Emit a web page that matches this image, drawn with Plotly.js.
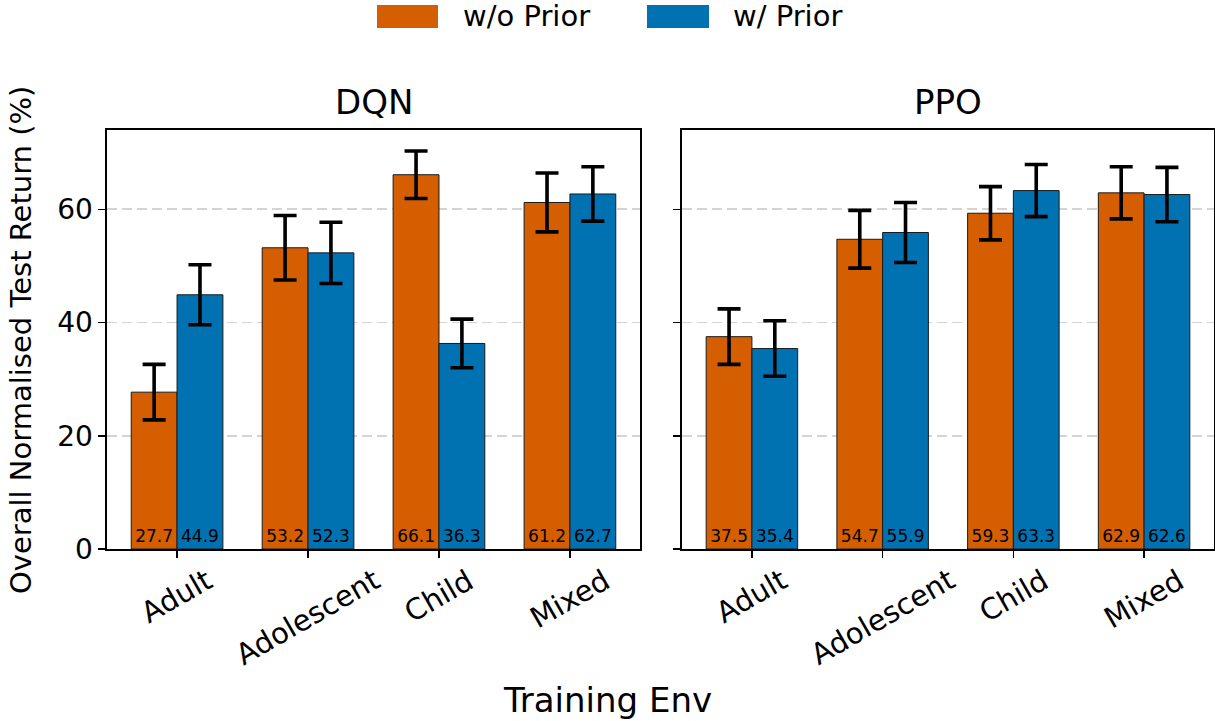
<!DOCTYPE html>
<html><head><meta charset="utf-8">
<script src="https://cdn.plot.ly/plotly-3.0.1.min.js"></script>
<style>html,body{margin:0;padding:0;background:#fff}</style>
</head><body><div id="chart" style="width:1215px;height:721px"></div>
<script>
const categories = ['Adult', 'Adolescent', 'Child', 'Mixed'];
const seriesNames = ['w/o Prior', 'w/ Prior'];
const panelTitles = ['DQN', 'PPO'];
const dqnWithoutPrior = [27.7, 53.2, 66.1, 61.2];
const dqnWithoutPriorErr = [4.9, 5.7, 4.2, 5.2];
const dqnWithPrior = [44.9, 52.3, 36.3, 62.7];
const dqnWithPriorErr = [5.3, 5.4, 4.3, 4.8];
const ppoWithoutPrior = [37.5, 54.7, 59.3, 62.9];
const ppoWithoutPriorErr = [4.9, 5.1, 4.7, 4.6];
const ppoWithPrior = [35.4, 55.9, 63.3, 62.6];
const ppoWithPriorErr = [4.9, 5.3, 4.6, 4.8];
const yTicks = [0, 20, 40, 60];
const xAxisTitle = 'Training Env';
const yAxisTitle = 'Overall Normalised Test Return (%)';

const colors = ['#D55E00', '#0072B2'];
const W = 1215, H = 721;
const FONT = 'DejaVu Sans';

const panels = [
  {vals: [dqnWithoutPrior, dqnWithPrior], errs: [dqnWithoutPriorErr, dqnWithPriorErr], xa: 'x', ya: 'y'},
  {vals: [ppoWithoutPrior, ppoWithPrior], errs: [ppoWithoutPriorErr, ppoWithPriorErr], xa: 'x2', ya: 'y2'}
];

const traces = [];
panels.forEach((p, pi) => {
  [0, 1].forEach(s => {
    traces.push({
      type: 'bar', x: categories, y: p.vals[s], name: seriesNames[s],
      xaxis: p.xa, yaxis: p.ya, offsetgroup: String(s), showlegend: false,
      marker: {color: colors[s], line: {color: '#1a1a1a', width: 1}},
      error_y: {type: 'data', array: p.errs[s], visible: true, color: 'black', thickness: 3.6, width: 11.5},
      texttemplate: '%{y:.1f}', textposition: 'inside', insidetextanchor: 'start',
      textangle: 0, constraintext: 'none', cliponaxis: false,
      textfont: {family: FONT, size: 17, color: 'black'}
    });
  });
});

const xDom = [[107 / W, 640 / W], [682 / W, 1214 / W]];
const yDom = [1 - 549 / H, 1 - 130 / H];

function xAxis(i, anchor) {
  return {domain: xDom[i], anchor: anchor, type: 'category', range: [-0.535, 3.535],
    showline: true, mirror: true, linecolor: 'black', linewidth: 1.6,
    ticks: 'outside', ticklen: 7, tickwidth: 1.5, tickcolor: 'black',
    showticklabels: false, showgrid: false, zeroline: false, fixedrange: true};
}
function yAxis(anchor, labels) {
  return {domain: yDom, anchor: anchor, range: [0, 74], tickvals: yTicks,
    showline: true, mirror: true, linecolor: 'black', linewidth: 1.6,
    ticks: 'outside', ticklen: 7, tickwidth: 1.5, tickcolor: 'black',
    showticklabels: labels, tickfont: {family: FONT, size: 28, color: 'black'},
    showgrid: true, gridcolor: 'rgba(170,170,170,0.5)', griddash: '10px,5px', gridwidth: 1.6,
    layer: 'above traces', zeroline: false, fixedrange: true};
}

const annotations = [];
panels.forEach((p, pi) => {
  categories.forEach(c => {
    annotations.push({x: c, xref: p.xa, y: yDom[0], yref: 'paper', yanchor: 'top', xanchor: 'center',
      yshift: -11, textangle: -30, text: c, showarrow: false,
      font: {family: FONT, size: 29, color: 'black'}});
  });
  annotations.push({x: 0.5, xref: p.xa + ' domain', y: yDom[1], yref: 'paper', yanchor: 'bottom', xanchor: 'center',
    yshift: 6, text: panelTitles[pi], showarrow: false, font: {family: FONT, size: 34, color: 'black'}});
});
annotations.push({x: 0.5, xref: 'paper', y: 1 - 700 / H, yref: 'paper', xanchor: 'center', yanchor: 'middle',
  text: xAxisTitle, showarrow: false, font: {family: FONT, size: 34, color: 'black'}});
annotations.push({x: 21 / W, xref: 'paper', y: 1 - 340 / H, yref: 'paper', xanchor: 'center', yanchor: 'middle',
  textangle: -90, text: yAxisTitle, showarrow: false, font: {family: FONT, size: 29, color: 'black'}});

// legend (drawn manually to get wide patches)
const legendItems = [{x0: 377, x1: 438, tx: 461}, {x0: 647, x1: 709, tx: 731}];
const shapes = [];
legendItems.forEach((li, i) => {
  shapes.push({type: 'rect', xref: 'paper', yref: 'paper', x0: li.x0 / W, x1: li.x1 / W,
    y0: 1 - 28 / H, y1: 1 - 5 / H, fillcolor: colors[i], line: {width: 0}});
  annotations.push({x: li.tx / W, xref: 'paper', y: 1 - 16 / H, yref: 'paper', xanchor: 'left', yanchor: 'middle',
    text: seriesNames[i], showarrow: false, font: {family: FONT, size: 29, color: 'black'}});
});

const layout = {
  width: W, height: H, margin: {l: 0, r: 0, t: 0, b: 0},
  paper_bgcolor: 'white', plot_bgcolor: 'white',
  font: {family: FONT, color: 'black'},
  barmode: 'group', bargap: 0.3, bargroupgap: 0,
  xaxis: xAxis(0, 'y'), xaxis2: xAxis(1, 'y2'),
  yaxis: yAxis('x', true), yaxis2: yAxis('x2', false),
  annotations: annotations, shapes: shapes, showlegend: false
};

Plotly.newPlot('chart', traces, layout, {displayModeBar: false, staticPlot: true});
</script></body></html>
